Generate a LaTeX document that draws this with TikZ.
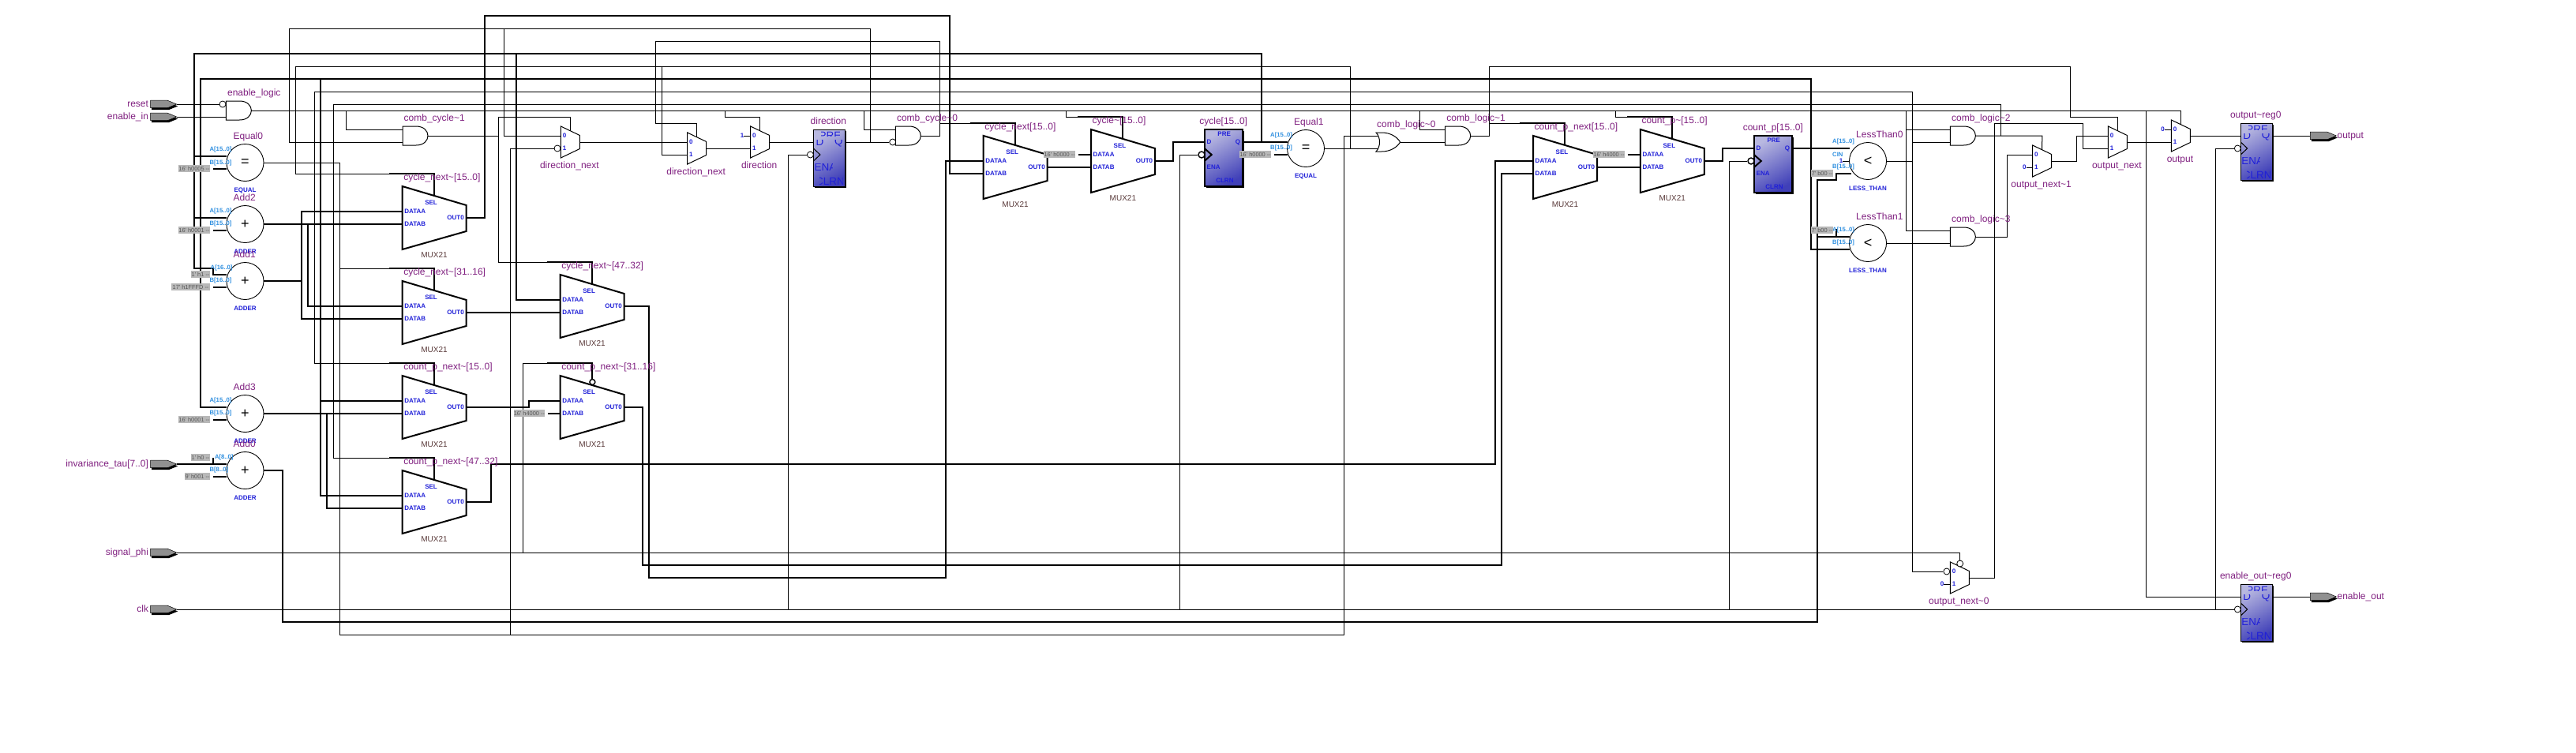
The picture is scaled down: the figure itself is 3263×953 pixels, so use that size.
\documentclass[tikz,border=0pt]{standalone}
\usepackage{fontspec}
\setmainfont{Liberation Sans}
\newfontfamily\plainf{Liberation Sans}
\pgfdeclarelayer{bg}
\pgfsetlayers{bg,main}
\definecolor{lblp}{HTML}{802080}
\definecolor{blb}{HTML}{2020D8}
\definecolor{ltb}{HTML}{3090E0}
\definecolor{mxc}{HTML}{5A3A3A}
\definecolor{cstb}{HTML}{B8B8B8}
\definecolor{cstt}{HTML}{555555}
\definecolor{pingray}{HTML}{909090}
\definecolor{fflt}{HTML}{B8B8E0}
\definecolor{ffdk}{HTML}{4040B8}
\newcommand\tl{\textasciitilde}
\tikzset{
  tn/.style={line width=1pt,black},
  tk/.style={line width=2pt,black},
  lbl/.style={text=lblp,inner sep=0pt,text height=8.7pt,text depth=2.5pt,font=\fontsize{12}{13}\selectfont},
  pinb/.style={text=blb,inner sep=0pt,font=\bfseries\fontsize{8}{9}\selectfont},
  portl/.style={text=ltb,inner sep=0pt,font=\bfseries\fontsize{7.7}{9}\selectfont},
  mxl/.style={text=mxc,inner sep=0pt,font=\fontsize{10}{11}\selectfont},
  opn/.style={circle,draw,fill=white,line width=0.9pt,minimum size=47pt,inner sep=0pt,font=\fontsize{18}{19}\selectfont},
  bub/.style={circle,draw,fill=white,inner sep=0pt,minimum size=8pt,line width=0.8pt},
  cstn/.style={fill=cstb,text=cstt,inner sep=0pt,minimum height=9pt,anchor=west,font=\plainf\fontsize{7.4}{8}\selectfont},
  fflb/.style={text=blb,inner sep=0pt,font=\fontsize{13.5}{14}\selectfont},
}
% big mux: name x y label
\newcommand\bmux[4]{%
  \draw[tk,fill=white] (#2,#3) -- (#2+81,#3+24) -- (#2+81,#3+57) -- (#2,#3+80) -- cycle;
  \coordinate (#1-a) at (#2,#3+32);
  \coordinate (#1-b) at (#2,#3+48);
  \coordinate (#1-o) at (#2+81,#3+40);
  \coordinate (#1-s) at (#2+40.4,#3+12);
  \node[pinb,anchor=west] (#1-da) at (#2+2.5,#3+32) {DATAA};
  \node[pinb,anchor=west] (#1-db) at (#2+2.5,#3+48) {DATAB};
  \node[pinb] (#1-sl) at (#2+36.5,#3+21) {SEL};
  \node[pinb,anchor=east] (#1-ot) at (#2+78.3,#3+40) {OUT0};
  \node[mxl] (#1-ty) at (#2+40.4,#3+87) {MUX21};
  \node[lbl,anchor=west] (#1-lb) at (#2+1.5,#3-11) {#4};
}
% small mux: name x y label
\newcommand\smux[4]{%
  \draw[tn,fill=white] (#2,#3) -- (#2+24,#3+11.5) -- (#2+24,#3+28.5) -- (#2,#3+40) -- cycle;
  \coordinate (#1-a) at (#2,#3+12);
  \coordinate (#1-b) at (#2,#3+28);
  \coordinate (#1-o) at (#2+24,#3+20);
  \coordinate (#1-s) at (#2+12,#3+6);
  \node[pinb] (#1-p0) at (#2+4.6,#3+12) {0};
  \node[pinb] (#1-p1) at (#2+4.6,#3+28) {1};
  \node[lbl] (#1-lb) at (#2+11,#3+50) {#4};
}
% and gate: name x y label
\newcommand\agate[4]{%
  \draw[tn,fill=white] (#2,#3) -- (#2+17,#3) .. controls (#2+27,#3) and (#2+32,#3+6) .. (#2+32,#3+12) .. controls (#2+32,#3+18) and (#2+27,#3+24) .. (#2+17,#3+24) -- (#2,#3+24) -- cycle;
  \coordinate (#1-a) at (#2,#3+4);
  \coordinate (#1-b) at (#2,#3+20);
  \coordinate (#1-o) at (#2+32,#3+12);
  \node[lbl,anchor=west] (#1-lb) at (#2+1.5,#3-10) {#4};
}
% op circle: name x y sym label type
\newcommand\opc[6]{%
  \node[opn] (#1) at (#2,#3) {#4};
  \coordinate (#1-a) at (#2-23.5,#3-8);
  \coordinate (#1-b) at (#2-23.5,#3+8);
  \coordinate (#1-o) at (#2+23.5,#3);
  \node[lbl,anchor=west] (#1-lb) at (#2-15,#3-33) {#5};
  \node[pinb] (#1-ty) at (#2,#3+35) {#6};
}
\newcommand\pl[4]{\node[portl,anchor=west] (#1) at (#2,#3) {#4};}
\newcommand\cst[5]{\node[cstn,minimum width={(#3-#2)*1pt}] (#1) at (#2,#4) {#5};}
\newcommand\cw[2]{\draw[tk] ([xshift=3.5pt]#1.east |- #2) -- (#2);}
\newcommand\pinshape[2]{%
  \fill[black] (#1+1.5,#2-2.5) -- (#1+22.5,#2-2.5) -- (#1+34.5,#2+2.5) -- (#1+23.5,#2+7) -- (#1+1.5,#2+7) -- cycle;
  \draw[line width=0.5pt,fill=pingray] (#1,#2-5) -- (#1+21,#2-5) -- (#1+33,#2) -- (#1+22,#2+4.5) -- (#1,#2+4.5) -- cycle;
}
\newcommand\pinin[4]{%
  \pinshape{#2}{#3}
  \coordinate (#1-t) at (#2+33,#3);
  \node[lbl,anchor=east] (#1-lb) at (#2-2.5,#3) {#4};
}
\newcommand\pinout[4]{%
  \pinshape{#2}{#3}
  \coordinate (#1-w) at (#2,#3);
  \node[lbl,anchor=west] (#1-lb) at (#2+34,#3) {#4};
}
% thin FF: name x y label
\newcommand\ffthin[4]{%
  \fill[black] (#2+2,#3+2) rectangle (#2+41.5,#3+74);
  \shade[top color=fflt,bottom color=ffdk,shading angle=30] (#2,#3) rectangle (#2+40,#3+72);
  \draw[line width=0.7pt] (#2,#3) rectangle (#2+40,#3+72);
  \begin{scope}\clip (#2+10,#3+1.5) rectangle (#2+33,#3+8.8);\node[fflb] (#1-pr) at (#2+21,#3+8) {PRE};\end{scope}
  \begin{scope}\clip (#2+2,#3+13) rectangle (#2+13,#3+21);\node[fflb] (#1-dl) at (#2+8,#3+16) {D};\end{scope}
  \begin{scope}\clip (#2+27,#3+13) rectangle (#2+37,#3+21);\node[fflb] (#1-ql) at (#2+32,#3+16) {Q};\end{scope}
  \begin{scope}\clip (#2+2,#3+43) rectangle (#2+24.5,#3+51.5);\node[fflb] (#1-en) at (#2+15,#3+47.5) {ENA};\end{scope}
  \begin{scope}\clip (#2+8,#3+60) rectangle (#2+37,#3+70);\node[fflb] (#1-cl) at (#2+21,#3+65.5) {CLRN};\end{scope}
  \draw[tn] (#2,#3+24) -- (#2+8.5,#3+32) -- (#2,#3+40);
  \coordinate (#1-d) at (#2,#3+16);
  \coordinate (#1-q) at (#2+40,#3+16);
  \coordinate (#1-c) at (#2,#3+32);
  \node[lbl] (#1-lb) at (#2+19,#3-10) {#4};
}
\newcommand\ffthick[4]{%
  \fill[black] (#2+2,#3+2) rectangle (#2+50.5,#3+74);
  \shade[top color=fflt,bottom color=ffdk,shading angle=30] (#2,#3) rectangle (#2+48.6,#3+72);
  \draw[tk] (#2,#3) rectangle (#2+48.6,#3+72);
  \node[pinb] (#1-pr) at (#2+25,#3+6) {PRE};
  \node[pinb] (#1-dl) at (#2+5.7,#3+16) {D};
  \node[pinb] (#1-ql) at (#2+42.2,#3+16) {Q};
  \node[pinb] (#1-en) at (#2+11.4,#3+48) {ENA};
  \node[pinb] (#1-cl) at (#2+25.7,#3+65) {CLRN};
  \draw[tk] (#2,#3+24) -- (#2+9,#3+32) -- (#2,#3+40);
  \coordinate (#1-d) at (#2,#3+16);
  \coordinate (#1-q) at (#2+48.6,#3+16);
  \coordinate (#1-c) at (#2,#3+32);
  \node[lbl] (#1-lb) at (#2+24,#3-10) {#4};
}
\begin{document}
\begin{tikzpicture}[x=1pt,y=-1pt]
\useasboundingbox (0,0) rectangle (3263,953);
\begin{pgfonlayer}{bg}\fill[white] (0,0) rectangle (3263,953);\end{pgfonlayer}

% ---- pins
\pinin{pr}{190.7}{132}{reset}
\pinin{pe}{190.7}{148}{enable\_in}
\pinin{pt}{190.7}{588}{invariance\_tau[7..0]}
\pinin{pp}{190.7}{700}{signal\_phi}
\pinin{pc}{190.7}{772}{clk}
\pinout{po}{2926.4}{172}{output}
\pinout{pn}{2926.4}{756}{enable\_out}

% ---- gates
\agate{el}{286.4}{128}{enable\_logic}
\agate{cca}{510}{160}{comb\_cycle\tl 1}
\agate{ccb}{1134.3}{160}{comb\_cycle\tl 0}
\agate{clb}{1830.7}{160}{comb\_logic\tl 1}
\agate{clc}{2470.4}{160}{comb\_logic\tl 2}
\agate{cld}{2470.4}{288}{comb\_logic\tl 3}
\draw[tn,fill=white] (1743,168) -- (1750,168) .. controls (1762,168) and (1770,174) .. (1773.6,180) .. controls (1770,186) and (1762,192) .. (1750,192) -- (1743,192) .. controls (1749,186) and (1749,174) .. cycle;
\coordinate (or-a) at (1746.5,172);
\coordinate (or-b) at (1746.5,188);
\coordinate (or-o) at (1773.6,180);
\node[lbl,anchor=west] (or-lb) at (1744,158) {comb\_logic\tl 0};

% ---- operators
\opc{eqa}{310.5}{206}{=}{Equal0}{EQUAL}
\opc{ada}{310.5}{284}{+}{Add2}{ADDER}
\opc{adb}{310.5}{356}{+}{Add1}{ADDER}
\opc{adc}{310.5}{524}{+}{Add3}{ADDER}
\opc{add}{310.5}{596}{+}{Add0}{ADDER}
\opc{eqb}{1654}{188}{=}{Equal1}{EQUAL}
\opc{lta}{2366}{204}{<}{LessThan0}{LESS\_THAN}
\opc{ltb}{2366}{308}{<}{LessThan1}{LESS\_THAN}
\coordinate (lta-pa) at (2343,188);
\coordinate (lta-pb) at (2345,220);
\coordinate (lta-pc) at (2343,204);

% ---- muxes
\bmux{cna}{509.6}{236}{cycle\_next\tl[15..0]}
\bmux{cnb}{509.6}{356}{cycle\_next\tl[31..16]}
\bmux{cnc}{709.6}{348}{cycle\_next\tl[47..32]}
\bmux{cpa}{509.6}{476}{count\_p\_next\tl[15..0]}
\bmux{cpb}{709.6}{476}{count\_p\_next\tl[31..16]}
\bmux{cpc}{509.6}{596}{count\_p\_next\tl[47..32]}
\bmux{cyn}{1245.7}{172}{cycle\_next[15..0]}
\bmux{cym}{1382}{164}{cycle\tl[15..0]}
\bmux{cpn}{1942}{172}{count\_p\_next[15..0]}
\bmux{cpm}{2077.9}{164}{count\_p\tl[15..0]}
\smux{ma}{710.4}{160}{direction\_next}
\smux{mb}{870.7}{168}{direction\_next}
\smux{mc}{950.7}{160}{direction}
\smux{ng}{2470.4}{712}{output\_next\tl 0}
\smux{nh}{2574.6}{184}{output\_next\tl 1}
\smux{ni}{2670.4}{160}{output\_next}
\smux{nj}{2750.4}{152}{output}

% ---- registers
\ffthin{fd}{1030.4}{164}{direction}
\ffthick{fc}{1525.7}{164}{cycle[15..0]}
\ffthick{fp}{2221.8}{172}{count\_p[15..0]}
\ffthin{fo}{2838.2}{156}{output\tl reg0}
\ffthin{fe}{2838.2}{740}{enable\_out\tl reg0}

% ---- bubbles
\node[bub] (b1) at (282,132) {};
\node[bub] (b2) at (706,188) {};
\node[bub] (b3) at (1026.4,196) {};
\node[bub] (b4) at (1130.7,180) {};
\node[bub,line width=1.4pt] (b5) at (1522,196) {};
\node[bub,line width=1.4pt] (b6) at (2218,204) {};
\node[bub] (b7) at (2834.3,188) {};
\node[bub] (b8) at (2834.3,772) {};
\node[bub] (b9) at (2465.8,724) {};
\node[bub] (b10) at (2482.7,714) {};
\node[bub,line width=1.4pt,minimum size=7pt] (b11) at (750.4,484) {};

% ---- port labels
\pl{l1}{265.4}{190}{A[15..0]}
\pl{l2}{265.4}{206.7}{B[15..0]}
\pl{l3}{265.4}{268}{A[15..0]}
\pl{l4}{265.4}{284}{B[15..0]}
\pl{l5}{266.5}{340}{A[16..0]}
\pl{l6}{265.4}{356}{B[16..0]}
\pl{l7}{265.4}{508}{A[15..0]}
\pl{l8}{265.4}{524}{B[15..0]}
\pl{l9}{271.8}{580}{A[8..0]}
\pl{l10}{265.4}{596}{B[8..0]}
\pl{l11}{1609}{172}{A[15..0]}
\pl{l12}{1609}{188}{B[15..0]}
\pl{l13}{2321}{180}{A[15..0]}
\pl{l14}{2321}{196}{CIN}
\pl{l15}{2321}{212}{B[15..0]}
\pl{l16}{2321}{292}{A[15..0]}
\pl{l17}{2321}{308}{B[15..0]}

% ---- constants
\cst{c1}{226}{265.7}{213.5}{16' h0005 --}
\cst{c2}{226}{265.7}{291.5}{16' h0001 --}
\cst{c3}{242}{265.7}{347.5}{1' h1 --}
\cst{c4}{217}{265.7}{363.5}{17' h1FFFD --}
\cst{c5}{226}{265.7}{531.5}{16' h0001 --}
\cst{c6}{242}{265.7}{579.5}{1' h0 --}
\cst{c7}{234}{265.7}{603.5}{9' h001 --}
\cst{c8}{650.4}{690}{523.5}{16' h4000 --}
\cst{c9}{1322}{1362}{195.5}{16' h0000 --}
\cst{c10}{1570}{1610}{195.5}{16' h0000 --}
\cst{c11}{2018}{2058}{195.5}{16' h4000 --}
\cst{c12}{2294}{2322}{219.5}{7' b00 --}
\cst{c13}{2294}{2322}{291.5}{7' b00 --}
\node[pinb] (k1) at (940,172) {1};
\node[pinb] (k2) at (2564.3,212) {0};
\node[pinb] (k3) at (2739.6,164) {0};
\node[pinb] (k4) at (2460,740) {0};
\node[pinb] (k5) at (2332,204) {1};

% ---- wires
\begin{pgfonlayer}{bg}
% thin nets
\draw[tn] (pr-t) -- (b1);
\draw[tn] (pe-t) -- (el-b);
\draw[tn] (el-o) -- (2762.4,140) -- (nj-s);
\draw[tn] (438,140) |- (cca-a);
\draw[tn] (918.2,140) -- (918.2,148) -| (mc-s);
\draw[tn] (1094.6,140) |- (ccb-a);
\draw[tn] (1350.4,140) |- (1365,148);
\draw[tn] (1798.6,140) |- (clb-a);
\draw[tn] (2046.4,140) |- (2061.4,148);
\draw[tn] (2414.3,140) |- (cld-a);
\draw[tn] (2414.3,164) -- (clc-a);
\draw[tn] (2718.2,140) |- (fe-d);
\draw[tn] (cca-o) -- (631,172);
\draw[tn] (693,332) -- (631,332) -- (631,148) -| (ma-s);
\draw[tn] (fd-q) -- (b4);
\draw[tn] (1102.5,180) -- (1102.5,36) -- (366.4,36) |- (cca-b);
\draw[tn] (638,36) |- (ma-a);
\draw[tn] (b2) -- (646.4,188) -- (646.4,804);
\draw[tn] (eqa-o) -- (430.7,206) -- (430.7,804) -- (1702.5,804) -- (1702.5,172) -- (or-a);
\draw[tn] (430.7,340) -- (493,340);
\draw[tn] (eqb-o) -- (or-b);
\draw[tn] (1710.7,188) -- (1710.7,84) -- (374,84) -- (374,220) -- (493,220);
\draw[tn] (838,84) |- (mb-b);
\draw[tn] (ma-o) -- (mb-a);
\draw[tn] (mb-o) -- (mc-b);
\draw[tn] (mc-o) -- (fd-d);
\draw[tn] (k1) -- (mc-a);
\draw[tn] (ccb-o) -- (1190.7,172) -- (1190.7,52) -- (830.7,52) -- (830.7,156) -| (mb-s);
\draw[tn] (1190.7,156) -- (1228.6,156);
\draw[tn] (998.2,772) |- (b3);
\draw[tn] (1494.6,772) |- (b5);
\draw[tn] (2190.4,772) |- (b6);
\draw[tn] (2806.4,772) |- (b7);
\draw[tn] (pc-t) -- (b8);
\draw[tn] (pp-t) -- (2482.7,700) -- (b10);
\draw[tn] (662.5,700) -- (662.5,460) -- (693,460);
\draw[tn] (lta-o) -- (2422.5,204);
\draw[tn] (493,460) -- (398.6,460) -- (398.6,116) -- (2422.5,116) -- (2422.5,724) -- (b9);
\draw[tn] (2422.5,180) -- (clc-b);
\draw[tn] (clc-o) -- (2586.8,172) -- (nh-s);
\draw[tn] (2534.6,172) -- (2534.6,132) -- (422.5,132) -- (422.5,580) -- (493,580);
\draw[tn] (ltb-o) -- (cld-b);
\draw[tn] (cld-o) -- (2542.5,300) |- (nh-a);
\draw[tn] (or-o) -- (clb-b);
\draw[tn] (clb-o) -- (1886.8,172) -- (1886.8,84) -- (2622.5,84) -- (2622.5,148) -| (ni-s);
\draw[tn] (1886.8,156) -- (1925,156);
\draw[tn] (nh-o) -- (2630.4,204) |- (ni-a);
\draw[tn] (ng-o) -- (2526.4,732) -- (2526.4,156) -- (2638.2,156) |- (ni-b);
\draw[tn] (ni-o) -- (nj-b);
\draw[tn] (nj-o) -- (fo-d);
\draw[tn] (fo-q) -- (po-w);
\draw[tn] (fe-q) -- (pn-w);
\draw[tn] (k2) -- (nh-b);
\draw[tn] (k3) -- (nj-a);
\draw[tn] (k4) -- (ng-b);
\draw[tn] (k5) -- (lta-pc);
% thick nets
\draw[tk] (1365,148) -| (cym-s);
\draw[tk] (2061.4,148) -| (cpm-s);
\draw[tk] (693,332) -| (cnc-s);
\draw[tk] (493,340) -| (cnb-s);
\draw[tk] (493,220) -| (cna-s);
\draw[tk] (1228.6,156) -| (cyn-s);
\draw[tk] (1925,156) -| (cpn-s);
\draw[tk] (693,460) -| (b11);
\draw[tk] (493,460) -| (cpa-s);
\draw[tk] (493,580) -| (cpc-s);
\draw[tk] (cna-o) -- (614,276) -- (614,20) -- (1203,20) -- (1203,220) -- (cyn-b);
\draw[tk] (fc-q) -- (eqb-a);
\draw[tk] (1598,180) -- (1598,68) -- (246.4,68) -- (246.4,340) -- (270,340) -- (270,348) -- (adb-a);
\draw[tk] (246.4,198) -- (eqa-a);
\draw[tk] (246.4,276) -- (ada-a);
\draw[tk] (654,68) |- (cnc-a);
\draw[tk] (fp-q) -- (lta-pa);
\draw[tk] (2293.6,188) -- (2293.6,100) -- (254,100) -- (254,516) -- (adc-a);
\draw[tk] (2293.6,188) -- (2293.6,316) -- (ltb-b);
\draw[tk] (406,100) -- (406,628) -- (cpc-a);
\draw[tk] (406,508) -- (cpa-a);
\draw[tk] (ada-o) -- (cna-b);
\draw[tk] (adb-o) -- (381.8,356);
\draw[tk] (cna-a) -- (381.8,268) -- (381.8,404) -- (cnb-b);
\draw[tk] (389.6,284) -- (389.6,388) -- (cnb-a);
\draw[tk] (cnb-o) -- (cnc-b);
\draw[tk] (cnc-o) -- (822,388) -- (822,732) -- (1198.2,732) -- (1198.2,204) -- (cyn-a);
\draw[tk] (cyn-o) -- (cym-b);
\draw[tk] (cym-o) -- (1486,204) |- (fc-d);
\draw[tk] (adc-o) -- (cpa-b);
\draw[tk] (414,524) |- (cpc-b);
\draw[tk] (cpa-o) -- (669.6,516) |- (cpb-a);
\draw[tk] (cpb-o) -- (814,516) -- (814,716) -- (1902,716) -- (1902,220) -- (cpn-b);
\draw[tk] (cpc-o) -- (622,636) -- (622,588) -- (1894,588) -- (1894,204) -- (cpn-a);
\draw[tk] (cpn-o) -- (cpm-b);
\draw[tk] (cpm-o) -- (2182,204) |- (fp-d);
\draw[tk] (pt-t) -- (add-a);
\draw[tk] (270,580) -- (270,588);
\draw[tk] (add-o) -- (358,596) -- (358,788) -- (2301.8,788) -- (2301.8,228) -- (2326,228) -- (2326,220) -- (lta-pb);
\draw[tk] (2301.8,300) -- (ltb-a);
\draw[tk] (2326,290) -- (2326,300);
\cw{c1}{eqa-b}
\cw{c2}{ada-b}
\cw{c4}{adb-b}
\cw{c5}{adc-b}
\cw{c7}{add-b}
\cw{c8}{cpb-b}
\cw{c9}{cym-a}
\cw{c10}{eqb-b}
\cw{c11}{cpm-a}
\end{pgfonlayer}
\end{tikzpicture}
\end{document}
